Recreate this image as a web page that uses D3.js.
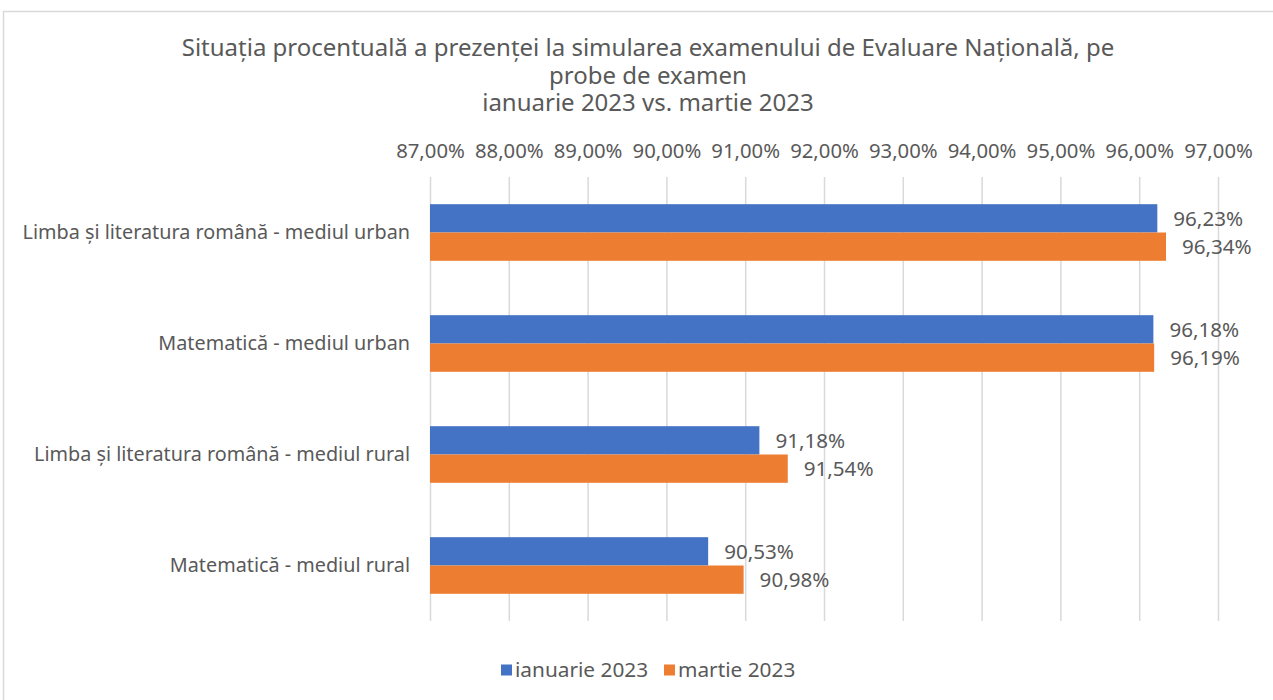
<!DOCTYPE html>
<html>
<head>
<meta charset="utf-8">
<script src="https://cdn.jsdelivr.net/npm/d3@7"></script>
<style>
  body { margin: 0; background: #fff; }
  svg text { font-family: "Noto Sans", "Liberation Sans", Arial, sans-serif; fill: #595959; }
</style>
</head>
<body>
<svg id="chart"></svg>
<script>
// data
const categories = [
  "Limba și literatura română - mediul urban",
  "Matematică - mediul urban",
  "Limba și literatura română - mediul rural",
  "Matematică - mediul rural"
];
const seriesNames = ["ianuarie 2023", "martie 2023"];
const ianuarie = [96.23, 96.18, 91.18, 90.53];
const martie = [96.34, 96.19, 91.54, 90.98];
const ticks = [87, 88, 89, 90, 91, 92, 93, 94, 95, 96, 97];
const titleLines = [
  "Situația procentuală a prezenței la simularea examenului de Evaluare Națională, pe",
  "probe de examen",
  "ianuarie 2023 vs. martie 2023"
];

const svg_width = 1273, svg_height = 700;
const margin = {top: 177, right: 55, bottom: 79, left: 430},
      width = svg_width - margin.left - margin.right,
      height = svg_height - margin.top - margin.bottom;
const colors = ["#4472c4", "#ed7d31"];
const fmt = v => v.toFixed(2).replace(".", ",") + "%";

const svg = d3.select("#chart")
  .attr("width", svg_width)
  .attr("height", svg_height);

// outer border
svg.append("rect")
  .attr("x", 3.5).attr("y", 11.5)
  .attr("width", 1290).attr("height", 700)
  .style("fill", "none")
  .style("stroke", "#d9d9d9")
  .style("stroke-width", 1.5);

// title
svg.append("text")
  .attr("x", 648)
  .attr("y", 56)
  .style("font-size", "24px")
  .style("text-anchor", "middle")
  .selectAll("tspan")
  .data(titleLines)
  .enter()
    .append("tspan")
    .attr("x", 648)
    .attr("dy", (d, i) => i === 0 ? 0 : 27.5)
    .text(d => d);

const chart = svg.append("g")
  .attr("transform", "translate(" + margin.left + "," + margin.top + ")");

let xScale = d3.scaleLinear()
  .domain([87, 97])
  .range([0, width]);

let yScale = d3.scaleBand()
  .domain(categories)
  .range([0, height])
  .paddingInner(0.49)
  .paddingOuter(0.245);

let sub = d3.scaleBand()
  .domain(seriesNames)
  .range([0, yScale.bandwidth()]);

// vertical grid lines
chart.append("g")
  .attr("class", "grid")
  .call(d3.axisBottom(xScale).tickValues(ticks).tickSize(height).tickFormat(""))
  .call(g => g.select(".domain").remove())
  .selectAll("line")
    .style("stroke", "#d9d9d9")
    .style("stroke-width", 1.5);

// top axis labels
chart.append("g")
  .call(d3.axisTop(xScale).tickValues(ticks).tickSize(0).tickPadding(19).tickFormat(fmt))
  .call(g => g.select(".domain").remove())
  .selectAll("text")
    .style("font-family", "Noto Sans")
    .style("font-size", "20.3px")
    .style("fill", "#595959");

// category labels
chart.append("g")
  .selectAll("text")
  .data(categories)
  .enter()
    .append("text")
    .attr("x", -20)
    .attr("y", d => yScale(d) + yScale.bandwidth() / 2)
    .attr("dy", "0.35em")
    .style("font-size", "19.8px")
    .style("text-anchor", "end")
    .text(d => d);

const series = [ianuarie, martie];
series.forEach((vals, s) => {
  chart.append("g")
    .selectAll("rect")
    .data(vals)
    .enter()
      .append("rect")
      .attr("x", 0)
      .attr("y", (d, i) => yScale(categories[i]) + sub(seriesNames[s]))
      .attr("width", d => xScale(d))
      .attr("height", sub.bandwidth())
      .style("fill", colors[s]);

  chart.append("g")
    .selectAll("text")
    .data(vals)
    .enter()
      .append("text")
      .attr("x", d => xScale(d) + 16)
      .attr("y", (d, i) => yScale(categories[i]) + sub(seriesNames[s]) + sub.bandwidth() / 2)
      .attr("dy", "0.35em")
      .style("font-size", "20.6px")
      .text(d => fmt(d));
});

// legend
const legend = svg.append("g")
  .attr("transform", "translate(501, 670)");
const legendX = [0, 163];
seriesNames.forEach((name, i) => {
  legend.append("rect")
    .attr("x", legendX[i])
    .attr("y", -5.5)
    .attr("width", 11)
    .attr("height", 11)
    .style("fill", colors[i]);
  legend.append("text")
    .attr("x", legendX[i] + 14)
    .attr("y", 0)
    .attr("dy", "0.35em")
    .style("font-size", "20.8px")
    .text(name);
});
</script>
</body>
</html>
